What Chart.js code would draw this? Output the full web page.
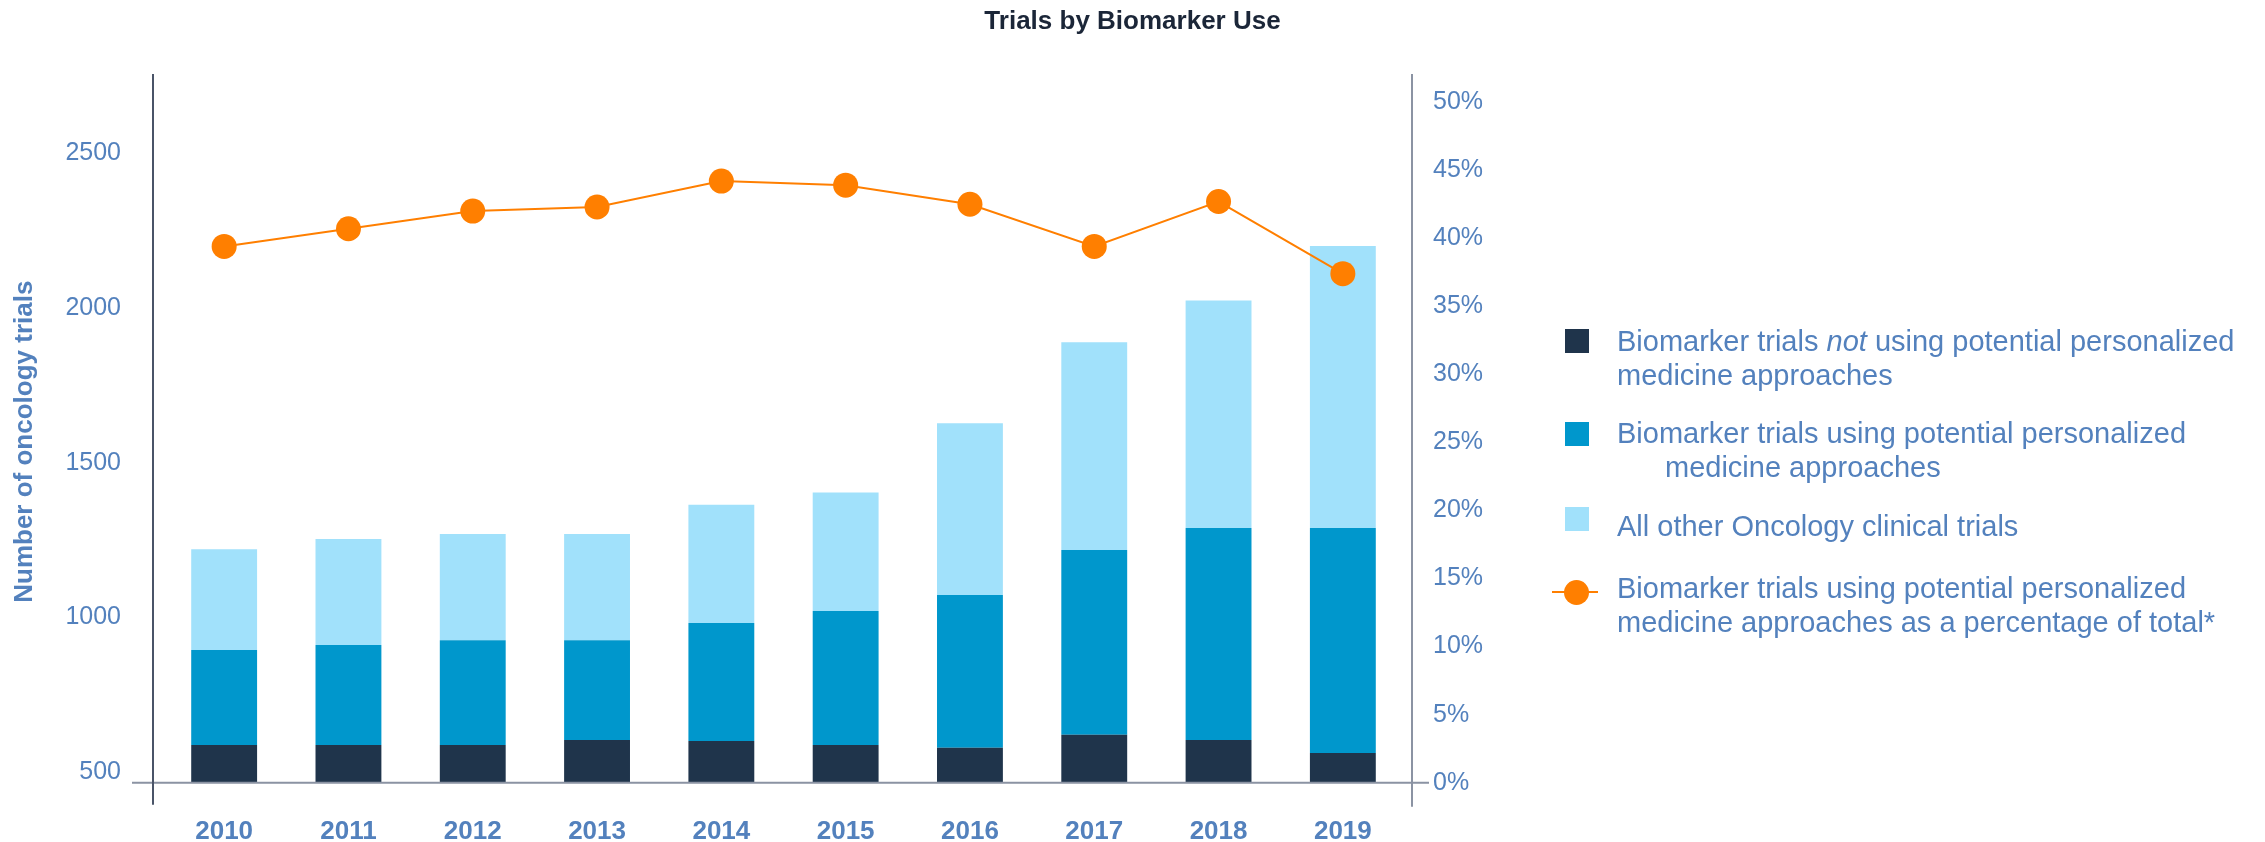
<!DOCTYPE html>
<html>
<head>
<meta charset="utf-8">
<script src="https://cdn.jsdelivr.net/npm/chart.js@4/dist/chart.umd.min.js"></script>
<style>
  body { margin: 0; background: #fff; }
  #wrap { position: relative; width: 2265px; height: 842px; }
  .lg { position: absolute; left: 1617px; font: 29px "Liberation Sans", Arial, sans-serif; line-height: 33.5px; color: #5381bd; white-space: nowrap; }
  .sw { position: absolute; left: 1565px; width: 24px; height: 24px; }
  .indent { padding-left: 48px; }
</style>
</head>
<body>
<div id="wrap">
  <canvas id="trialsChart"></canvas>
  <div class="sw" style="top:329px;background:#1f344b"></div>
  <div class="lg" style="top:325px">Biomarker trials <i>not</i> using potential personalized<br>medicine approaches</div>
  <div class="sw" style="top:422px;background:#0097cc"></div>
  <div class="lg" style="top:417px">Biomarker trials using potential personalized<br><span class="indent">medicine approaches</span></div>
  <div class="sw" style="top:507px;background:#a1e1fb"></div>
  <div class="lg" style="top:510px">All other Oncology clinical trials</div>
  <div style="position:absolute;left:1552px;top:591px;width:46px;height:2px;background:#ff7f00"></div>
  <div style="position:absolute;left:1564px;top:580px;width:25px;height:25px;border-radius:50%;background:#ff7f00"></div>
  <div class="lg" style="top:572px">Biomarker trials using potential personalized<br>medicine approaches as a percentage of total*</div>
</div>
<script>
var years = ["2010", "2011", "2012", "2013", "2014", "2015", "2016", "2017", "2018", "2019"];
var notPersonalized = [588, 588, 588, 604, 601, 588, 579, 621, 604, 562];
var personalized = [307, 323, 339, 323, 381, 433, 494, 597, 685, 727];
var allOther = [326, 343, 343, 343, 382, 383, 555, 671, 735, 911];
var pctOfTotal = [39.4, 40.7, 42.0, 42.3, 44.2, 43.9, 42.5, 39.4, 42.7, 37.4];
var countTicks = [500, 1000, 1500, 2000, 2500];
var pctTicks = [0, 5, 10, 15, 20, 25, 30, 35, 40, 45, 50];

Chart.defaults.font.family = '"Liberation Sans", Arial, sans-serif';
var blueText = '#5381bd';

// axis lines overshoot the plot area like the original, so draw them by hand
var axisLines = {
  id: 'axisLines',
  afterDraw: function(chart) {
    var ctx = chart.ctx, a = chart.chartArea;
    ctx.save();
    ctx.lineWidth = 2;
    ctx.strokeStyle = '#8b93a3';
    ctx.beginPath();
    ctx.moveTo(a.left - 30, a.bottom);
    ctx.lineTo(a.right + 24, a.bottom);
    ctx.moveTo(a.right + 7, a.top);
    ctx.lineTo(a.right + 7, a.bottom + 24);
    ctx.stroke();
    ctx.strokeStyle = '#4a5468';
    ctx.beginPath();
    ctx.moveTo(a.left - 9, a.top);
    ctx.lineTo(a.left - 9, a.bottom + 22);
    ctx.stroke();
    // y axis title, sits a little below the middle of the axis
    ctx.translate(25, a.bottom - 341);
    ctx.rotate(-Math.PI / 2);
    ctx.fillStyle = blueText;
    ctx.font = 'bold 26px "Liberation Sans", Arial, sans-serif';
    ctx.textAlign = 'center';
    ctx.textBaseline = 'middle';
    ctx.fillText("Number of oncology trials", 0, 0);
    ctx.restore();
  }
};

var ctx = document.getElementById("trialsChart").getContext("2d");
var chart = new Chart(ctx, {
  type: "bar",
  data: {
    labels: years,
    datasets: [
      {
        type: "line",
        label: "Biomarker trials using potential personalized medicine approaches as a percentage of total*",
        data: pctOfTotal,
        yAxisID: "y1",
        borderColor: "#ff7f00",
        backgroundColor: "#ff7f00",
        borderWidth: 2,
        pointRadius: 12.5,
        pointBorderWidth: 0,
        tension: 0,
        order: 0
      },
      {
        label: "Biomarker trials not using potential personalized medicine approaches",
        data: notPersonalized,
        backgroundColor: "#1f344b",
        stack: "s",
        order: 1
      },
      {
        label: "Biomarker trials using potential personalized medicine approaches",
        data: personalized,
        backgroundColor: "#0097cc",
        stack: "s",
        order: 1
      },
      {
        label: "All other Oncology clinical trials",
        data: allOther,
        backgroundColor: "#a1e1fb",
        stack: "s",
        order: 1
      }
    ]
  },
  options: {
    responsive: true,
    maintainAspectRatio: false,
    animation: false,
    layout: { padding: 0 },
    datasets: { bar: { categoryPercentage: 1, barPercentage: 0.53 } },
    plugins: {
      legend: { display: false },
      tooltip: { enabled: false },
      title: {
        display: true,
        text: "Trials by Biomarker Use",
        color: "#1b2638",
        font: { size: 26, weight: "bold" },
        padding: { top: 6.5, bottom: 36.3 }
      }
    },
    scales: {
      x: {
        stacked: true,
        grid: { display: false },
        border: { display: false },
        ticks: { color: blueText, font: { size: 26, weight: "bold" }, padding: 26, maxRotation: 0 },
        afterFit: function(s) { s.height = 59.3; }
      },
      y: {
        stacked: true,
        position: "left",
        min: 466.4,
        max: 2756,
        grid: { display: false },
        border: { display: false },
        ticks: {
          color: blueText,
          font: { size: 25 },
          padding: 33,
          callback: function(v) { return String(v); }
        },
        afterBuildTicks: function(s) { s.ticks = countTicks.map(function(v) { return { value: v }; }); },
        afterFit: function(s) { s.width = 162; }
      },
      y1: {
        position: "right",
        min: 0,
        max: 52.07,
        grid: { display: false },
        border: { display: false },
        ticks: {
          color: blueText,
          font: { size: 25 },
          padding: 20,
          callback: function(v) { return v + "%"; }
        },
        afterBuildTicks: function(s) { s.ticks = pctTicks.map(function(v) { return { value: v }; }); },
        afterFit: function(s) { s.width = 860; }
      }
    }
  },
  plugins: [axisLines]
});
</script>
</body>
</html>
